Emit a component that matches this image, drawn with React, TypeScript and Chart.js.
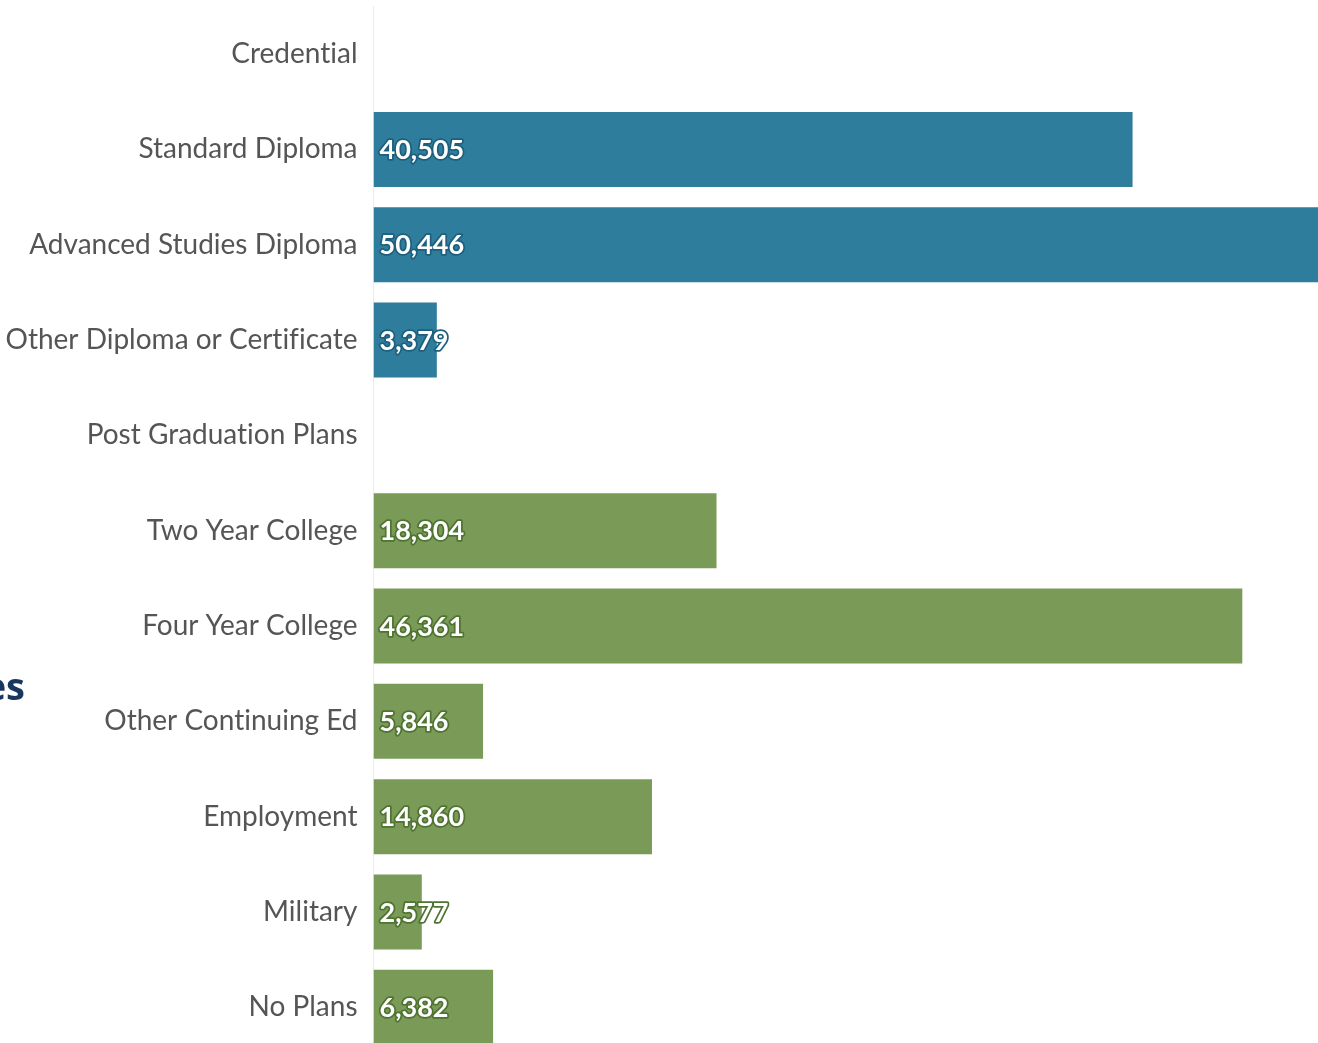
import React, { useEffect, useRef } from "react";
import { Chart, registerables } from "chart.js";

Chart.register(...registerables);

const categories = [
  "Credential",
  "Standard Diploma",
  "Advanced Studies Diploma",
  "Other Diploma or Certificate",
  "Post Graduation Plans",
  "Two Year College",
  "Four Year College",
  "Other Continuing Ed",
  "Employment",
  "Military",
  "No Plans",
];

const values: (number | null)[] = [null, 40505, 50446, 3379, null, 18304, 46361, 5846, 14860, 2577, 6382];

const groups = ["credential", "credential", "credential", "credential", "plans", "plans", "plans", "plans", "plans", "plans", "plans"];

const groupColors: Record<string, string> = { credential: "#2e7d9c", plans: "#7a9a57" };
const groupStroke: Record<string, string> = { credential: "#1d5f7c", plans: "#4f7330" };

const LABEL_FONT = "Lato, 'Noto Sans', sans-serif";

const valueLabelPlugin = {
  id: "valueLabels",
  afterDatasetsDraw(chart: any) {
    const ctx = chart.ctx;
    const meta = chart.getDatasetMeta(0);
    const left = chart.chartArea.left;
    ctx.save();
    ctx.font = `bold 27px ${LABEL_FONT}`;
    ctx.textBaseline = "middle";
    ctx.textAlign = "left";
    ctx.lineJoin = "round";
    meta.data.forEach((bar: any, i: number) => {
      const v = values[i];
      if (v == null) return;
      const text = v.toLocaleString("en-US");
      ctx.lineWidth = 3.5;
      ctx.strokeStyle = groupStroke[groups[i]];
      ctx.strokeText(text, left + 6, bar.y + 1);
      ctx.fillStyle = "#ffffff";
      ctx.fillText(text, left + 6, bar.y + 1);
    });
    ctx.restore();
  },
};

export default function App() {
  const ref = useRef<HTMLCanvasElement | null>(null);

  useEffect(() => {
    document.body.style.margin = "0";
    document.body.style.overflow = "hidden";
    if (!ref.current) return;
    const chart = new Chart(ref.current, {
      type: "bar",
      data: {
        labels: categories,
        datasets: [
          {
            data: values as any,
            backgroundColor: groups.map((g) => groupColors[g]),
            borderWidth: 0,
            barPercentage: 0.787,
            categoryPercentage: 1,
          },
        ],
      },
      options: {
        indexAxis: "y",
        animation: false,
        responsive: false,
        maintainAspectRatio: false,
        layout: { padding: { top: 6.4, bottom: 0, left: 0, right: 0 } },
        plugins: { legend: { display: false }, tooltip: { enabled: false } },
        scales: {
          x: {
            display: false,
            min: 0,
            max: 50400,
          },
          y: {
            afterFit(scale: any) {
              scale.width = 373.5;
              scale.paddingTop = 0;
              scale.paddingBottom = 0;
            },
            grid: { display: false, drawTicks: false },
            border: { display: true, color: "#ececec", width: 1 },
            ticks: {
              padding: 16,
              color: "#555555",
              font: { family: LABEL_FONT, size: 28 },
              callback(this: any, val: any) {
                const lbl = String(this.getLabelForValue(val));
                return lbl.replace(/ti/g, "t\u200Ci").replace(/fi/g, "f\u200Ci");
              },
            },
          },
        },
      },
      plugins: [valueLabelPlugin],
    });
    return () => chart.destroy();
  }, []);

  return (
    <div style={{ position: "fixed", left: 0, top: 0, width: 1318, height: 1043, overflow: "hidden", background: "#fff" }}>
      <canvas ref={ref} width={1318} height={1055} style={{ position: "absolute", left: 0, top: 0, width: 1318, height: 1055 }} />
      <div
        style={{
          position: "absolute",
          right: 1318 - 25,
          top: 660,
          whiteSpace: "nowrap",
          fontFamily: "'Open Sans', sans-serif",
          fontWeight: 700,
          fontSize: 38,
          color: "#17375e",
          lineHeight: "50px",
        }}
      >
        es
      </div>
    </div>
  );
}
